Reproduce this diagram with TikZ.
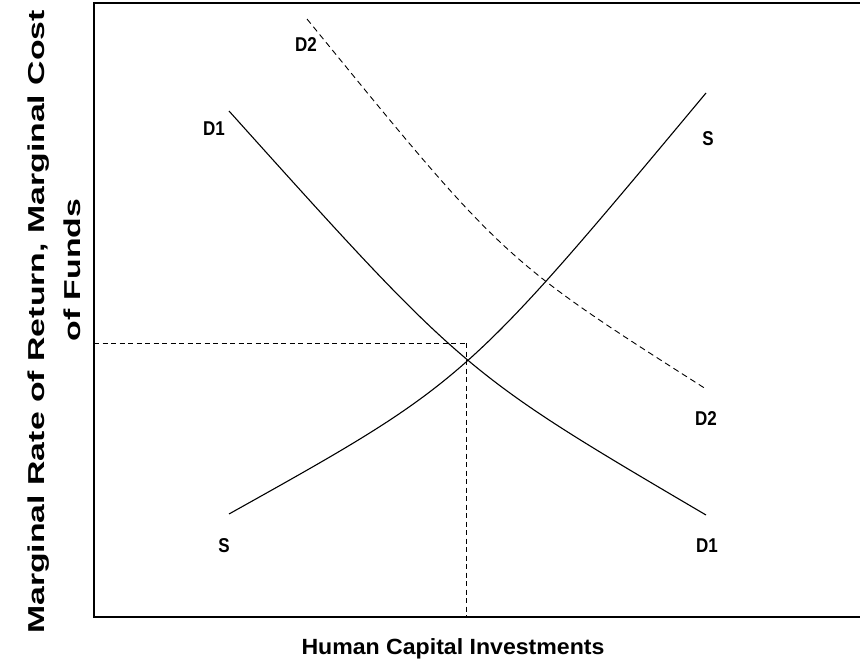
\documentclass[tikz,border=0pt]{standalone}
\usepackage{fontspec}
\usepackage{graphicx}
\setmainfont{Liberation Sans}
\begin{document}
\begin{tikzpicture}[x=1pt,y=-1pt,
  curve/.style={line width=1.1pt},
  guide/.style={line width=0.9pt, dash pattern=on 5pt off 3.5pt},
  shifted/.style={line width=0.9pt, dash pattern=on 6pt off 4pt},
  lbl/.style={font=\bfseries\fontsize{20}{20}\selectfont, inner sep=0pt},
  axislbl/.style={font=\bfseries\fontsize{22}{22}\selectfont, inner sep=0pt},
  vlbl/.style={font=\bfseries\fontsize{23}{23}\selectfont, inner sep=0pt, rotate=90}]
\useasboundingbox (0,0) rectangle (860,666);

% frame (open on the right)
\draw[line width=1.4pt] (860,3) -- (94,3) -- (94,617) -- (860,617);

% curve end points and the equilibrium point
\coordinate (d1a) at (229,111);
\coordinate (d1b) at (706,515);
\coordinate (sa) at (229,514);
\coordinate (sb) at (706,93);
\coordinate (d2a) at (307,19);
\coordinate (d2b) at (706,389);
\coordinate (eq) at (466,343);
\coordinate (yax) at (94,343);
\coordinate (xax) at (466,617);

% demand D1 and supply S
\draw[curve] (d1a) .. controls (464.5,373) .. (d1b);
\draw[curve] (sa) .. controls (464.5,382.5) .. (sb);
% shifted demand D2
\draw[shifted] (d2a) .. controls (503.5,260) .. (d2b);

% equilibrium guides
\draw[guide] (yax) -- (eq);
\draw[guide] (eq) -- (xax);

% curve labels
\node[lbl] (l1) at (214,129) {\scalebox{0.85}[1]{D1}};
\node[lbl] (l2) at (306,45) {\scalebox{0.85}[1]{D2}};
\node[lbl] (l3) at (708,139) {\scalebox{0.85}[1]{S}};
\node[lbl] (l4) at (706,419) {\scalebox{0.85}[1]{D2}};
\node[lbl] (l5) at (707,546) {\scalebox{0.85}[1]{D1}};
\node[lbl] (l6) at (224,546) {\scalebox{0.85}[1]{S}};

% axis titles
\node[axislbl] (xt) at (453,649) {\scalebox{1.05}[1]{Human Capital Investments}};
\node[vlbl] (yt1) at (39,322) {\scalebox{1.47}[1]{Marginal Rate of Return, Marginal Cost}};
\node[vlbl] (yt2) at (72,270) {\scalebox{1.47}[1]{of Funds}};
\end{tikzpicture}
\end{document}
